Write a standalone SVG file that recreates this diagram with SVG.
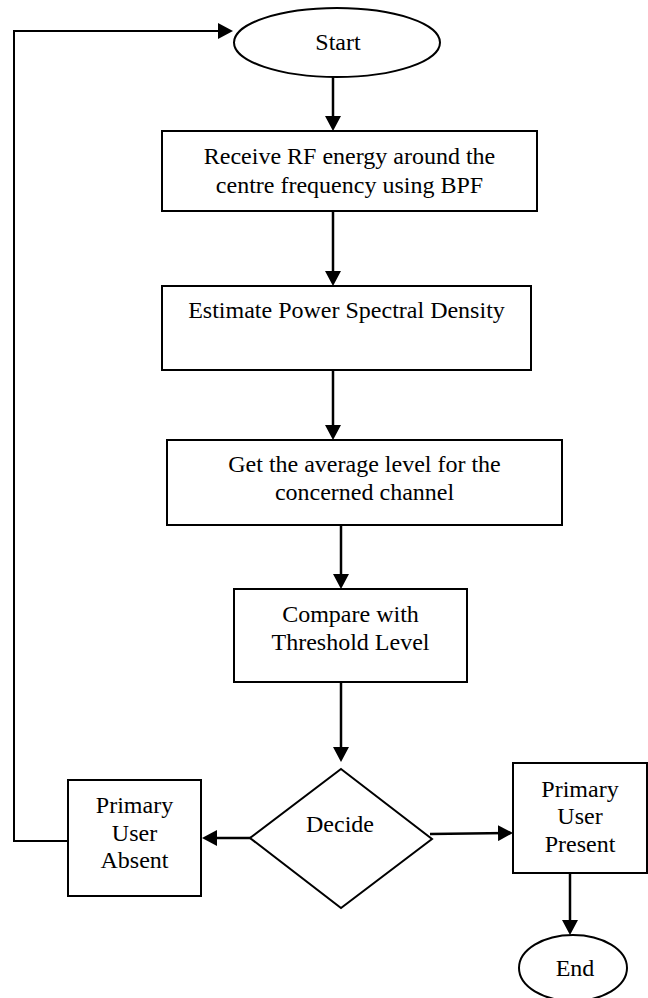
<svg xmlns="http://www.w3.org/2000/svg" width="648" height="998" viewBox="0 0 648 998">
<defs>
<style>
.shape{fill:#fff;stroke:#000;stroke-width:2}
.lbl{font-family:"Liberation Serif","Times New Roman",serif;font-size:24px;fill:#000;text-anchor:middle}
.conn{fill:none;stroke:#000;stroke-width:2.5}
</style>
<marker id="ah" viewBox="0 0 15 16" refX="10" refY="8" markerWidth="15" markerHeight="16" markerUnits="userSpaceOnUse" orient="auto">
<path d="M0,0 L15,8 L0,16 Z" fill="#000"/>
</marker>
</defs>
<rect width="648" height="998" fill="#fff"/>
<g id="connectors">
<line class="conn" x1="333" y1="77" x2="333" y2="126" marker-end="url(#ah)"/>
<line class="conn" x1="333" y1="211" x2="333" y2="281" marker-end="url(#ah)"/>
<line class="conn" x1="333" y1="370" x2="333" y2="435" marker-end="url(#ah)"/>
<line class="conn" x1="341" y1="525" x2="341" y2="584" marker-end="url(#ah)"/>
<line class="conn" x1="341" y1="682" x2="341" y2="757" marker-end="url(#ah)"/>
<line class="conn" x1="251" y1="838" x2="207" y2="838" marker-end="url(#ah)"/>
<line class="conn" x1="430" y1="834" x2="508" y2="833" marker-end="url(#ah)"/>
<line class="conn" x1="570" y1="873" x2="570" y2="930" marker-end="url(#ah)"/>
<polyline class="conn" style="stroke-width:2" points="68,841 14,841 14,31 228,31" marker-end="url(#ah)"/>
</g>
<g id="start">
<ellipse class="shape" cx="337" cy="42.5" rx="103" ry="34.5"/>
<text class="lbl" x="338" y="50">Start</text>
</g>
<g id="receive">
<rect class="shape" x="162" y="131" width="375" height="80"/>
<text class="lbl" x="349.5" y="164">Receive RF energy around the</text>
<text class="lbl" x="349.5" y="193">centre frequency using BPF</text>
</g>
<g id="estimate">
<rect class="shape" x="162" y="286" width="369" height="84"/>
<text class="lbl" x="346.5" y="318">Estimate Power Spectral Density</text>
</g>
<g id="average">
<rect class="shape" x="167" y="440" width="395" height="85"/>
<text class="lbl" x="364.5" y="472">Get the average level for the</text>
<text class="lbl" x="364.5" y="500">concerned channel</text>
</g>
<g id="compare">
<rect class="shape" x="234" y="589" width="233" height="93"/>
<text class="lbl" x="350.5" y="622">Compare with</text>
<text class="lbl" x="350.5" y="650">Threshold Level</text>
</g>
<g id="decide">
<polygon class="shape" points="341,769 432,839 341,908 250,838"/>
<text class="lbl" x="340" y="832">Decide</text>
</g>
<g id="absent">
<rect class="shape" x="68" y="780" width="133" height="116"/>
<text class="lbl" x="134.5" y="813">Primary</text>
<text class="lbl" x="134.5" y="841">User</text>
<text class="lbl" x="134.5" y="868">Absent</text>
</g>
<g id="present">
<rect class="shape" x="513" y="763" width="134" height="110"/>
<text class="lbl" x="580" y="797">Primary</text>
<text class="lbl" x="580" y="824">User</text>
<text class="lbl" x="580" y="852">Present</text>
</g>
<g id="end">
<ellipse class="shape" cx="573" cy="968" rx="54" ry="33"/>
<text class="lbl" x="575" y="976">End</text>
</g>
</svg>
